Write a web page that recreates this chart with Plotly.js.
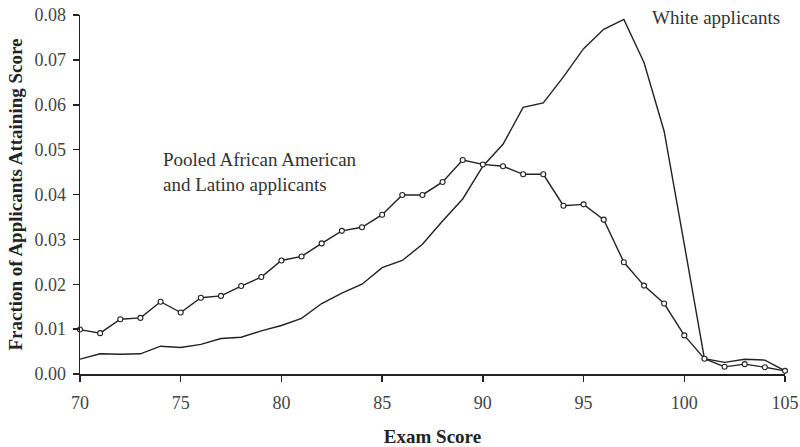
<!DOCTYPE html>
<html>
<head>
<meta charset="utf-8">
<script src="https://cdn.plot.ly/plotly-3.0.1.min.js"></script>
<style>html,body{margin:0;padding:0;background:#fff;}#chart{width:800px;height:447px;}</style>
</head>
<body>
<div id="chart"></div>
<script>
const scores = [70,71,72,73,74,75,76,77,78,79,80,81,82,83,84,85,86,87,88,89,90,91,92,93,94,95,96,97,98,99,100,101,102,103,104,105];
const pooled = [0.0099,0.0091,0.0122,0.0125,0.0161,0.0137,0.0170,0.0174,0.0196,0.0216,
                0.0253,0.0262,0.0291,0.0319,0.0327,0.0355,0.0399,0.0399,0.0428,0.0477,
                0.0467,0.0463,0.0445,0.0445,0.0375,0.0378,0.0344,0.0249,0.0197,0.0157,
                0.0086,0.0034,0.0016,0.0022,0.0015,0.0007];
const white = [0.0033,0.0045,0.0044,0.0045,0.0062,0.0059,0.0066,0.0079,0.0082,0.0096,
               0.0108,0.0124,0.0157,0.0180,0.0200,0.0237,0.0253,0.0289,0.0341,0.0390,
               0.0463,0.0512,0.0594,0.0604,0.0662,0.0725,0.0768,0.0790,0.0694,0.0541,
               0.0289,0.0034,0.0026,0.0033,0.0031,0.0007];
const xTicks = [70,75,80,85,90,95,100,105];
const labelPooled = "Pooled African American<br>and Latino applicants";
const labelWhite = "White applicants";

const font = "Liberation Serif, Times New Roman, serif";
const traces = [
  {x: scores, y: white, type: 'scatter', mode: 'lines',
   line: {color: '#222', width: 1.4}, cliponaxis: false, hoverinfo: 'skip'},
  {x: scores, y: pooled, type: 'scatter', mode: 'lines+markers',
   line: {color: '#222', width: 1.4},
   marker: {symbol: 'circle', size: 5, color: '#fff', line: {color: '#222', width: 1.1}},
   cliponaxis: false, hoverinfo: 'skip'}
];
const layout = {
  width: 800, height: 447,
  margin: {l: 80, r: 15, t: 15, b: 73},
  paper_bgcolor: '#fff', plot_bgcolor: '#fff',
  showlegend: false,
  font: {family: font, color: '#333', size: 18},
  xaxis: {
    range: [70, 105], tickvals: xTicks, ticktext: xTicks.map(String),
    showgrid: false, zeroline: false, showline: true, linecolor: '#222', linewidth: 1.5,
    ticks: 'outside', ticklen: 6, tickwidth: 1.5, tickcolor: '#222',
    ticklabelstandoff: 6,
    tickfont: {family: font, size: 18, color: '#444'},
    title: {text: '<b>Exam Score</b>', font: {family: font, size: 19, color: '#222'}, standoff: 18}
  },
  yaxis: {
    range: [0, 0.08], dtick: 0.01, tickformat: '.2f',
    showgrid: false, zeroline: false, showline: true, linecolor: '#222', linewidth: 1.5,
    ticks: 'outside', ticklen: 6, tickwidth: 1.5, tickcolor: '#222',
    ticklabelstandoff: 3,
    tickfont: {family: font, size: 18, color: '#444'},
    title: {text: '<b>Fraction of Applicants Attaining Score</b>', font: {family: font, size: 19, color: '#222'}, standoff: 7}
  },
  annotations: [
    {x: 74.0, y: 0.045, xref: 'x', yref: 'y', text: labelPooled, showarrow: false,
     xanchor: 'left', yanchor: 'middle', align: 'left', font: {family: font, size: 19, color: '#333'}},
    {x: 98.3, y: 0.0794, xref: 'x', yref: 'y', text: labelWhite, showarrow: false,
     xanchor: 'left', yanchor: 'middle', align: 'left', font: {family: font, size: 19, color: '#333'}}
  ]
};
Plotly.newPlot('chart', traces, layout, {staticPlot: true, displayModeBar: false});
</script>
</body>
</html>
